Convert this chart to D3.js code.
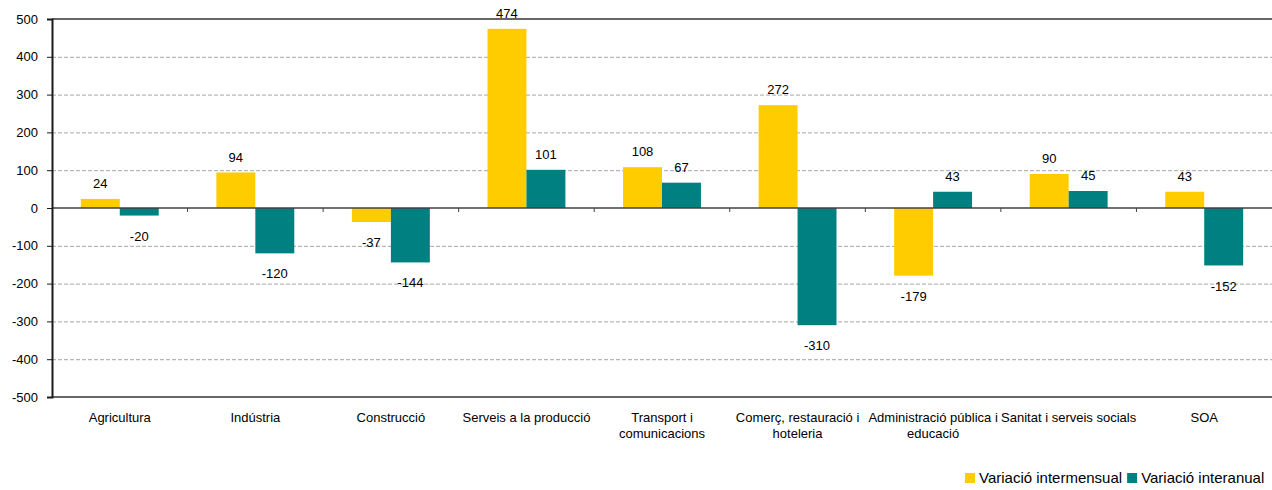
<!DOCTYPE html>
<html>
<head>
<meta charset="utf-8">
<script src="https://cdn.jsdelivr.net/npm/d3@7"></script>
<style>
  body { margin: 0; background: #fff; }
  svg { display: block; font-family: "Liberation Sans", Arial, sans-serif; }
  .grid line { stroke: #a6a6a6; stroke-dasharray: 4 2; }
  .grid path { display: none; }
  .yaxis path, .yaxis line { stroke: #1a1a1a; }
  .yaxis text { font-size: 13px; fill: #000; }
</style>
</head>
<body>
<svg id="chart" width="1272" height="490"></svg>
<script>
// chart data
var categories = ["Agricultura", "Indústria", "Construcció", "Serveis a la producció",
  "Transport i\ncomunicacions", "Comerç, restauració i\nhoteleria",
  "Administració pública i\neducació", "Sanitat i serveis socials", "SOA"];
var seriesNames = ["Variació intermensual", "Variació interanual"];
var intermensual = [24, 94, -37, 474, 108, 272, -179, 90, 43];
var interanual = [-20, -120, -144, 101, 67, -310, 43, 45, -152];
var yTicks = [-500, -400, -300, -200, -100, 0, 100, 200, 300, 400, 500];
var colors = ["#ffcc00", "#008080"];

function drawChart() {
  var svg = d3.select("#chart");
  var mLeft = 52, mRight = 1272, mTop = 19, mBottom = 397;
  var width = mRight - mLeft;

  var x0 = d3.scaleBand().domain(d3.range(categories.length)).range([mLeft, mRight]).padding(0);
  var x1 = d3.scaleBand().domain([0, 1]).range([0, x0.bandwidth()]).paddingInner(0).paddingOuter(0.74);
  var y = d3.scaleLinear().domain([-500, 500]).range([mBottom, mTop]);

  // dashed gridlines
  svg.append("g")
      .attr("class", "grid")
      .attr("transform", "translate(" + mLeft + ",0)")
      .call(d3.axisLeft(y).tickValues(yTicks.filter(function(d) { return d != 500 && d != -500 && d != 0; }))
        .tickSize(-width).tickFormat(""));

  // solid top and bottom border
  svg.selectAll("line.border")
      .data([500, -500])
    .enter().append("line")
      .attr("class", "border")
      .attr("x1", mLeft).attr("x2", mRight)
      .attr("y1", function(d) { return y(d); })
      .attr("y2", function(d) { return y(d); })
      .style("stroke", "#333")
      .style("stroke-width", 1.5);

  // bars
  var rows = categories.map(function(c, i) {
    return [intermensual[i], interanual[i]];
  });

  var groups = svg.selectAll("g.cat")
      .data(rows)
    .enter().append("g")
      .attr("class", "cat")
      .attr("transform", function(d, i) { return "translate(" + x0(i) + ",0)"; });

  groups.selectAll("rect")
      .data(function(d) { return d; })
    .enter().append("rect")
      .attr("x", function(d, j) { return x1(j); })
      .attr("width", x1.bandwidth())
      .attr("y", function(d) { return y(Math.max(0, d)); })
      .attr("height", function(d) { return Math.abs(y(d) - y(0)); })
      .style("fill", function(d, j) { return colors[j]; });

  // value labels
  groups.selectAll("text.val")
      .data(function(d) { return d; })
    .enter().append("text")
      .attr("class", "val")
      .attr("x", function(d, j) { return x1(j) + x1.bandwidth() / 2; })
      .attr("y", function(d) { return d >= 0 ? y(d) - 15.5 : y(d) + 20.5; })
      .attr("dy", "0.35em")
      .attr("text-anchor", "middle")
      .style("font-size", "13px")
      .text(function(d) { return d; });

  // zero line and category ticks
  svg.append("line")
      .attr("x1", mLeft).attr("x2", mRight)
      .attr("y1", y(0)).attr("y2", y(0))
      .style("stroke", "#404040")
      .style("stroke-width", 1.5);

  svg.selectAll("line.ctick")
      .data(d3.range(1, categories.length))
    .enter().append("line")
      .attr("class", "ctick")
      .attr("x1", function(i) { return x0(i); })
      .attr("x2", function(i) { return x0(i); })
      .attr("y1", y(0)).attr("y2", y(0) + 4)
      .style("stroke", "#404040");

  // y axis (plain hyphen for negatives, like the original)
  svg.append("g")
      .attr("class", "yaxis")
      .attr("transform", "translate(" + mLeft + ",0)")
      .call(d3.axisLeft(y).tickValues(yTicks).tickSize(5).tickPadding(9)
        .tickFormat(function(d) { return String(d); }))
      .call(function(g) { g.select(".domain").style("stroke-width", 2); });

  // category labels
  var labels = svg.selectAll("text.catlab")
      .data(categories)
    .enter().append("text")
      .attr("class", "catlab")
      .attr("text-anchor", "middle")
      .style("font-size", "13px")
      .attr("transform", function(d, i) { return "translate(" + (x0(i) + x0.bandwidth() / 2) + ",422)"; });

  labels.selectAll("tspan")
      .data(function(d) { return d.split("\n"); })
    .enter().append("tspan")
      .attr("x", 0)
      .attr("dy", function(d, k) { return k == 0 ? 0 : 16; })
      .text(function(d) { return d; });

  // legend
  var legend = svg.append("g").style("font-size", "15px");
  var lx = 965;
  seriesNames.forEach(function(name, j) {
    legend.append("rect")
      .attr("x", lx).attr("y", 473)
      .attr("width", 10).attr("height", 10)
      .style("fill", colors[j]);
    var t = legend.append("text")
      .attr("x", lx + 14).attr("y", 483)
      .text(name);
    lx += 14 + t.node().getComputedTextLength() + 5;
  });
}

drawChart();
</script>
</body>
</html>
